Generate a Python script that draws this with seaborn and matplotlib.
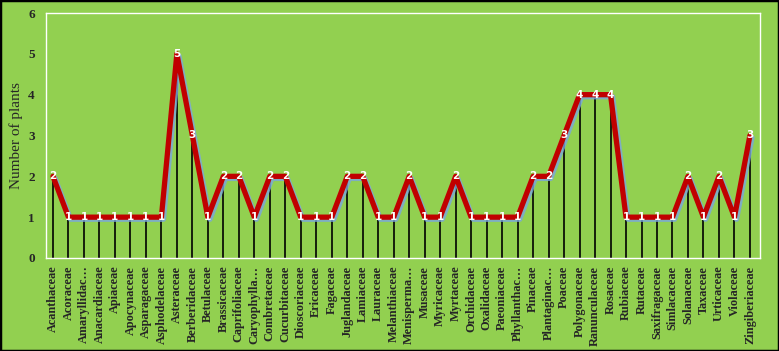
import matplotlib
matplotlib.use("Agg")
import matplotlib.pyplot as plt
import matplotlib.patheffects as pe
import seaborn as sns
import pandas as pd

families = ["Acanthaceae", "Acoraceae", "Amaryllidac…", "Anacardiaceae", "Apiaceae",
            "Apocynaceae", "Asparagaceae", "Asphodelaceae", "Asteraceae", "Berberidaceae",
            "Betulaceae", "Brassicaceae", "Caprifoliaceae", "Caryophylla…", "Combretaceae",
            "Cucurbitaceae", "Dioscoriaceae", "Ericaceae", "Fagaceae", "Juglandaceae",
            "Lamiaceae", "Lauraceae", "Melanthiaceae", "Menisperma…", "Musaceae",
            "Myricaceae", "Myrtaceae", "Orchidaceae", "Oxalidaceae", "Paeoniaceae",
            "Phyllanthac…", "Pinaceae", "Plantaginac…", "Poaceae", "Polygonaceae",
            "Ranunculaceae", "Rosaceae", "Rubiaceae", "Rutaceae", "Saxifragaceae",
            "Simlacaceae", "Solanaceae", "Taxaceae", "Urticaceae", "Violaceae",
            "Zingiberiaceae"]
plants = [2, 1, 1, 1, 1, 1, 1, 1, 5, 3,
          1, 2, 2, 1, 2, 2, 1, 1, 1, 2,
          2, 1, 1, 2, 1, 1, 2, 1, 1, 1,
          1, 2, 2, 3, 4, 4, 4, 1, 1, 1,
          1, 2, 1, 2, 1, 3]
y_ticks = [0, 1, 2, 3, 4, 5, 6]

df = pd.DataFrame({"pos": range(len(families)), "family": families, "plants": plants})

bg = "#92D050"
sns.set_theme(style="white")
plt.rcParams["font.family"] = ["Liberation Serif", "DejaVu Serif"]

fig = plt.figure(figsize=(7.79, 3.51), dpi=100, facecolor=bg)
ax = fig.add_axes([46/779, 93/351, (760-46)/779, (258-13)/351])
ax.set_facecolor(bg)

ax.vlines(df["pos"], 0, df["plants"], color="black", linewidth=1.2, zorder=2)
sns.lineplot(data=df, x="pos", y="plants", ax=ax, color="#C00000", linewidth=3.8,
             zorder=3, legend=False,
             path_effects=[pe.SimpleLineShadow(offset=(1.5, -1.5), shadow_color="#7aa6e0", alpha=0.8),
                           pe.Normal()])

for x, v in zip(df["pos"], df["plants"]):
    ax.text(x, v, str(v), color="white", fontsize=7.5, fontweight="bold",
            family=["DejaVu Sans"], ha="center", va="center", zorder=4)

ax.set_xlim(-0.45, len(families) - 0.35)
ax.set_ylim(0, 6)
ax.set_yticks(y_ticks)
ax.set_yticklabels([str(t) for t in y_ticks], fontsize=9.5, fontweight="bold")
ax.set_xticks(df["pos"])
ax.set_xticklabels(families, rotation=90, fontsize=8.8, fontweight="bold")
ax.set_xlabel("")
ax.set_ylabel("Number of plants", fontsize=11, labelpad=4)
ax.tick_params(axis="x", length=4, width=1, color="black", direction="out", pad=1.5)
ax.tick_params(axis="y", length=0, pad=8)
for s in ax.spines.values():
    s.set_color("white")
    s.set_linewidth(1)

fig.patches.append(plt.Rectangle((0, 0), 1, 1, transform=fig.transFigure,
                                 fill=False, edgecolor="black", linewidth=2.5))
fig.savefig("out.png", dpi=100, facecolor=bg)
